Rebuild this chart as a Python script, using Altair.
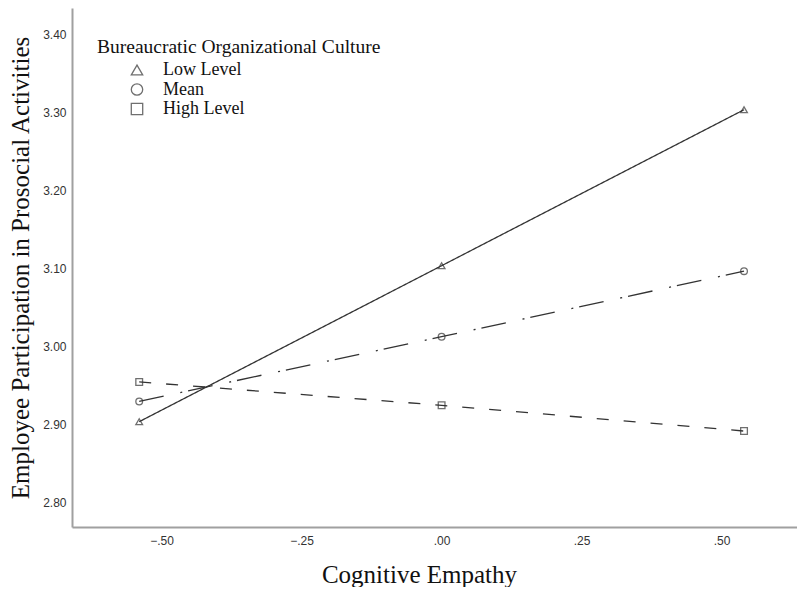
import altair as alt
import pandas as pd

x_vals = [-0.54, 0.0, 0.54]
levels = ["Low Level", "Mean", "High Level"]
low = [2.904, 3.104, 3.304]
mean = [2.930, 3.013, 3.097]
high = [2.955, 2.925, 2.892]
x_ticks = [-0.5, -0.25, 0.0, 0.25, 0.5]
y_ticks = [2.8, 2.9, 3.0, 3.1, 3.2, 3.3, 3.4]
legend_title = "Bureaucratic Organizational Culture"

rows = []
for lvl, series in zip(levels, [low, mean, high]):
    for xv, yv in zip(x_vals, series):
        rows.append({"x": xv, "y": yv, "level": lvl, "style": lvl})
df = pd.DataFrame(rows)
legend_df = pd.DataFrame({"level": levels})

ink = "#333333"
serif = "Liberation Serif"
sans = "Liberation Sans"
shape_scale = alt.Scale(domain=levels, range=["triangle-up", "circle", "square"])

xenc = alt.X(
    "x:Q",
    scale=alt.Scale(domain=[-0.66, 0.6346], nice=False, zero=False),
    axis=alt.Axis(
        values=x_ticks,
        labelExpr="replace(format(datum.value, '.2f'), '0.', '.')",
        title="Cognitive Empathy",
        titleFont=serif, titleFontSize=25, titleFontWeight="normal", titleColor="#111111",
        titlePadding=16, titleX=347,
        labelFont=sans, labelFontSize=12, labelColor=ink, labelPadding=8,
        ticks=False, grid=False, domainColor="#a0a0a0", domainWidth=2,
    ),
)
yenc = alt.Y(
    "y:Q",
    scale=alt.Scale(domain=[2.769, 3.4344], nice=False, zero=False),
    axis=alt.Axis(
        values=y_ticks,
        format=".2f",
        title="Employee Participation in Prosocial Activities",
        titleFont=serif, titleFontSize=25, titleFontWeight="normal", titleColor="#111111",
        titlePadding=9,
        labelFont=sans, labelFontSize=12, labelColor=ink, labelPadding=6,
        ticks=False, grid=False, domainColor="#a0a0a0", domainWidth=2,
    ),
)

base = alt.Chart(df)

lines = base.mark_line(color=ink, strokeWidth=1.3).encode(
    x=xenc,
    y=yenc,
    detail="style:N",
    strokeDash=alt.StrokeDash(
        "style:N",
        scale=alt.Scale(domain=levels, range=[[1, 0], [25, 17, 2, 6], [12, 15]]),
        legend=None,
    ),
)

points = base.mark_point(filled=False, color=ink, strokeWidth=1.3, size=45).encode(
    x=xenc,
    y=yenc,
    shape=alt.Shape("level:N", scale=shape_scale, legend=None),
)

legend_y = alt.Y(
    "level:N",
    scale=alt.Scale(type="point", domain=levels, range=[62, 101], padding=0),
    axis=None,
)

legend_symbols = alt.Chart(legend_df).mark_point(
    filled=False, color=ink, strokeWidth=1.3, size=130
).encode(
    x=alt.value(65),
    y=legend_y,
    shape=alt.Shape("level:N", scale=shape_scale, legend=None),
)

legend_labels = alt.Chart(legend_df).mark_text(
    align="left", baseline="middle", font=serif, fontSize=18, color="#111111"
).encode(
    x=alt.value(91),
    y=legend_y,
    text="level:N",
)

title_text = alt.Chart(pd.DataFrame({"t": [legend_title]})).mark_text(
    align="left", baseline="middle", font=serif, fontSize=19.5, color="#111111"
).encode(text="t:N", x=alt.value(25), y=alt.value(39))

main = alt.layer(lines, points)
legend = alt.layer(legend_symbols, legend_labels)

chart = (
    alt.layer(main, legend, title_text)
    .resolve_scale(y="independent")
    .properties(
        width=725,
        height=519,
        padding={"left": 0, "top": 0, "right": 0, "bottom": 0},
        background="white",
    )
    .configure_view(stroke=None)
)

chart.save("out.html", embed_options={"renderer": "svg", "actions": False})
